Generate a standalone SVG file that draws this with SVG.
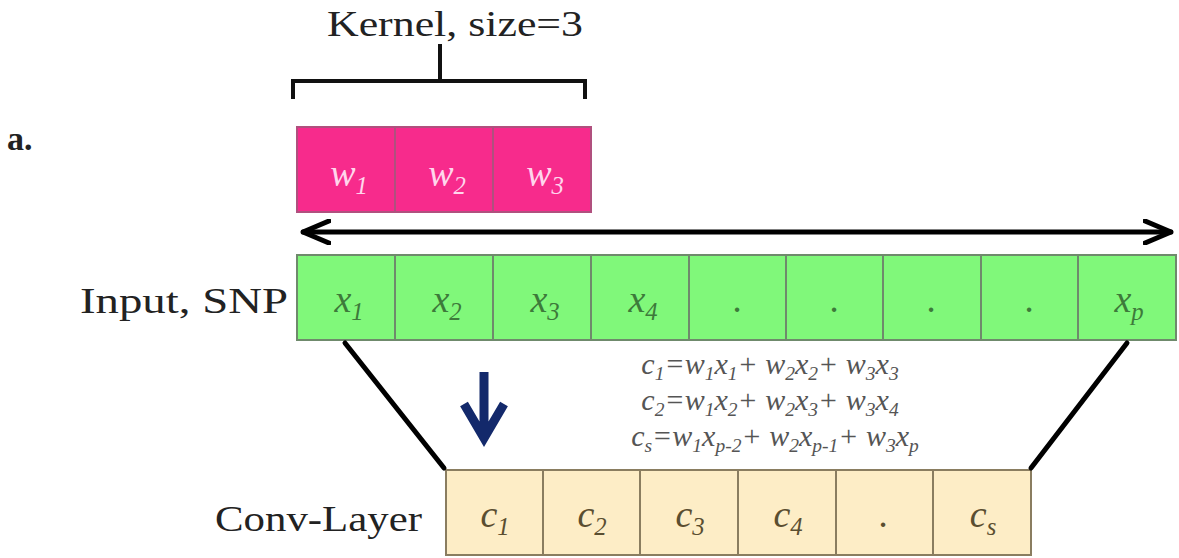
<svg xmlns="http://www.w3.org/2000/svg" width="1179" height="558" viewBox="0 0 1179 558">
<style>
.lbl{font-family:"Liberation Serif","DejaVu Serif",serif;font-size:35px;fill:#222}
.kc{fill:#f72b8c;stroke:#b0507e;stroke-width:2}
.ic{fill:#80f87a;stroke:#6f8a6c;stroke-width:2}
.cc{fill:#fdedc6;stroke:#8a7d60;stroke-width:2}
.m{font-family:"Liberation Serif","DejaVu Serif",serif;font-style:italic;font-size:38px;text-anchor:middle}
.km{fill:#ffd6ec}
.im{fill:#3d7a3a}
.cm{fill:#5a4e30}
.eq{font-family:"Liberation Serif","DejaVu Serif",serif;font-style:italic;font-size:30px;fill:#555;text-anchor:middle}
.s{font-size:65%}
.thick{stroke:#000;stroke-width:5;fill:none;stroke-linecap:round}
</style>
<defs>
<marker id="chev" viewBox="0 0 30 26" refX="28" refY="13" markerWidth="30" markerHeight="26" markerUnits="userSpaceOnUse" orient="auto-start-reverse">
<path d="M2,2 L28,13 L2,24" fill="none" stroke="#000" stroke-width="5" stroke-linecap="round" stroke-linejoin="round"/>
</marker>
</defs>

<text x="7" y="150" style="font-family:'Liberation Serif',serif;font-size:34px;font-weight:bold;fill:#222">a.</text>

<g id="kernel-label">
<text class="lbl" x="327" y="36" textLength="256" lengthAdjust="spacingAndGlyphs">Kernel, size=3</text>
<path d="M293,99 L293,81 L585,81 L585,99 M440,81 L440,44" fill="none" stroke="#111" stroke-width="4"/>
</g>

<g id="kernel">
<rect class="kc" x="297" y="127" width="98" height="85"/>
<rect class="kc" x="395" y="127" width="98" height="85"/>
<rect class="kc" x="493" y="127" width="98" height="85"/>
<text class="m km" x="349" y="186">w<tspan class="s" dy="8">1</tspan></text>
<text class="m km" x="447" y="186">w<tspan class="s" dy="8">2</tspan></text>
<text class="m km" x="545" y="186">w<tspan class="s" dy="8">3</tspan></text>
</g>

<g id="input">
<text class="lbl" x="80" y="313" textLength="208" lengthAdjust="spacingAndGlyphs">Input, SNP</text>
<rect class="ic" x="297" y="255" width="98" height="85"/>
<rect class="ic" x="395" y="255" width="98" height="85"/>
<rect class="ic" x="493" y="255" width="98" height="85"/>
<rect class="ic" x="591" y="255" width="98" height="85"/>
<rect class="ic" x="689" y="255" width="97" height="85"/>
<rect class="ic" x="786" y="255" width="97" height="85"/>
<rect class="ic" x="883" y="255" width="98" height="85"/>
<rect class="ic" x="981" y="255" width="97" height="85"/>
<rect class="ic" x="1078" y="255" width="98" height="85"/>
<text class="m im" x="349" y="312">x<tspan class="s" dy="8">1</tspan></text>
<text class="m im" x="447" y="312">x<tspan class="s" dy="8">2</tspan></text>
<text class="m im" x="545" y="312">x<tspan class="s" dy="8">3</tspan></text>
<text class="m im" x="643" y="312">x<tspan class="s" dy="8">4</tspan></text>
<text class="m im" x="738" y="312">.</text>
<text class="m im" x="835" y="312">.</text>
<text class="m im" x="932" y="312">.</text>
<text class="m im" x="1030" y="312">.</text>
<text class="m im" x="1129" y="312">x<tspan class="s" dy="8">p</tspan></text>
</g>

<g id="conv">
<text class="lbl" x="215" y="531" textLength="207" lengthAdjust="spacingAndGlyphs">Conv-Layer</text>
<rect class="cc" x="446" y="470" width="97" height="85"/>
<rect class="cc" x="543" y="470" width="97" height="85"/>
<rect class="cc" x="640" y="470" width="98" height="85"/>
<rect class="cc" x="738" y="470" width="98" height="85"/>
<rect class="cc" x="836" y="470" width="97" height="85"/>
<rect class="cc" x="933" y="470" width="98" height="85"/>
<text class="m cm" x="495" y="527">c<tspan class="s" dy="8">1</tspan></text>
<text class="m cm" x="592" y="527">c<tspan class="s" dy="8">2</tspan></text>
<text class="m cm" x="690" y="527">c<tspan class="s" dy="8">3</tspan></text>
<text class="m cm" x="788" y="527">c<tspan class="s" dy="8">4</tspan></text>
<text class="m cm" x="884" y="527">.</text>
<text class="m cm" x="983" y="527">c<tspan class="s" dy="8">s</tspan></text>
</g>

<g id="equations">
<text class="eq" x="770" y="374">c<tspan class="s" dy="6">1</tspan><tspan dy="-6">=w</tspan><tspan class="s" dy="6">1</tspan><tspan dy="-6">x</tspan><tspan class="s" dy="6">1</tspan><tspan dy="-6">+ w</tspan><tspan class="s" dy="6">2</tspan><tspan dy="-6">x</tspan><tspan class="s" dy="6">2</tspan><tspan dy="-6">+ w</tspan><tspan class="s" dy="6">3</tspan><tspan dy="-6">x</tspan><tspan class="s" dy="6">3</tspan></text>
<text class="eq" x="770" y="410">c<tspan class="s" dy="6">2</tspan><tspan dy="-6">=w</tspan><tspan class="s" dy="6">1</tspan><tspan dy="-6">x</tspan><tspan class="s" dy="6">2</tspan><tspan dy="-6">+ w</tspan><tspan class="s" dy="6">2</tspan><tspan dy="-6">x</tspan><tspan class="s" dy="6">3</tspan><tspan dy="-6">+ w</tspan><tspan class="s" dy="6">3</tspan><tspan dy="-6">x</tspan><tspan class="s" dy="6">4</tspan></text>
<text class="eq" x="775" y="446">c<tspan class="s" dy="6">s</tspan><tspan dy="-6">=w</tspan><tspan class="s" dy="6">1</tspan><tspan dy="-6">x</tspan><tspan class="s" dy="6">p-2</tspan><tspan dy="-6">+ w</tspan><tspan class="s" dy="6">2</tspan><tspan dy="-6">x</tspan><tspan class="s" dy="6">p-1</tspan><tspan dy="-6">+ w</tspan><tspan class="s" dy="6">3</tspan><tspan dy="-6">x</tspan><tspan class="s" dy="6">p</tspan></text>
</g>

<g id="connectors">
<line class="thick" x1="303" y1="232" x2="1171" y2="232" marker-start="url(#chev)" marker-end="url(#chev)"/>
<line class="thick" x1="345" y1="343" x2="444" y2="468"/>
<line class="thick" x1="1127" y1="343" x2="1031" y2="468"/>
<path d="M484,372 L484,436 M464,404 L484,438 L504,404" fill="none" stroke="#13296b" stroke-width="9" stroke-linejoin="miter"/>
</g>
</svg>
